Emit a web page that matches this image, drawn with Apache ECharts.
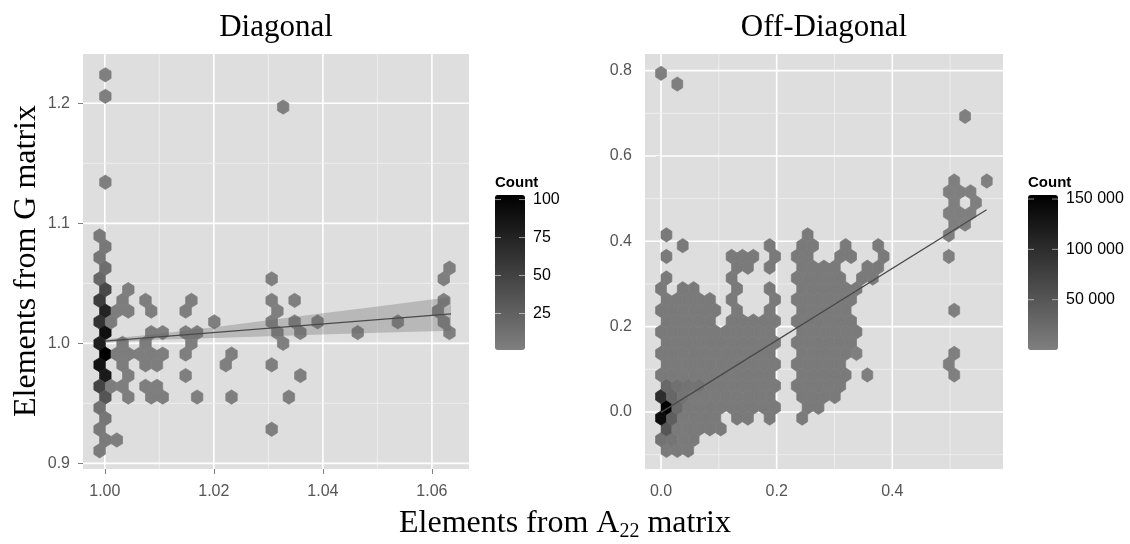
<!DOCTYPE html>
<html>
<head>
<meta charset="utf-8">
<script src="https://cdn.jsdelivr.net/npm/echarts@6/dist/echarts.min.js"></script>
<style>
html, body { margin: 0; padding: 0; background: #fff; }
#chart { width: 1130px; height: 544px; }
</style>
</head>
<body>
<div id="chart"></div>
<script>
// hexbin lattices (data units): column half-step hx, row step dy
const diagGrid = { x0: 1.0001, hx: 0.001052, y0: 1.0, dy: 0.00895 };
const offGrid = { x0: 0.0, hx: 0.00939, y0: 0.011, dy: 0.02525 };

// Diagonal panel: [column, row, count]
const diagCells = [
  [0, 25, 1], [0, 23, 1], [0, 15, 1],
  [-1, 10, 6], [0, 9, 7], [-1, 8, 8], [0, 7, 15], [-1, 6, 20], [0, 5, 45],
  [-1, 4, 55], [0, 3, 75], [-1, 2, 62], [0, 1, 90], [-1, 0, 78], [0, -1, 103],
  [-1, -2, 88], [0, -3, 82], [-1, -4, 48], [0, -5, 35], [-1, -6, 12], [0, -7, 8],
  [-1, -8, 6], [0, -9, 5], [-1, -10, 4],
  [31, 22, 1], [60, 7, 1], [29, 6, 1], [59, 6, 1], [4, 5, 2],
  [3, 4, 3], [7, 4, 2], [15, 4, 2], [29, 4, 1], [33, 4, 1], [59, 4, 1],
  [2, 3, 3], [4, 3, 3], [8, 3, 2], [14, 3, 2], [30, 3, 1], [58, 3, 1],
  [1, 2, 4], [19, 2, 1], [29, 2, 2], [33, 2, 1], [37, 2, 1], [51, 2, 1], [59, 2, 2],
  [8, 1, 3], [10, 1, 2], [14, 1, 2], [16, 1, 2], [30, 1, 2], [34, 1, 1], [44, 1, 1], [60, 1, 1],
  [3, 0, 3], [7, 0, 3], [15, 0, 2], [31, 0, 1],
  [2, -1, 3], [4, -1, 3], [6, -1, 2], [8, -1, 3], [10, -1, 2], [14, -1, 1], [22, -1, 1],
  [3, -2, 3], [7, -2, 3], [9, -2, 2], [21, -2, 1], [29, -2, 1],
  [4, -3, 2], [14, -3, 1], [34, -3, 1],
  [1, -4, 3], [3, -4, 2], [7, -4, 2], [9, -4, 2],
  [4, -5, 2], [8, -5, 2], [10, -5, 2], [16, -5, 1], [22, -5, 1], [32, -5, 1],
  [29, -8, 1], [2, -9, 2]
];

// Off-diagonal panel: filled columns per row of the two big clouds
const offRows = [
  [-4, [1, 3, 5]],
  [-3, [0, 2, 4, 6]],
  [-2, [1, 3, 5, 7, 9, 11]],
  [-1, [0, 2, 4, 6, 8, 10, 14, 16, 20, 26]],
  [0, [1, 3, 5, 7, 9, 11, 13, 15, 17, 19, 21, 27, 29]],
  [1, [0, 2, 4, 6, 8, 10, 12, 14, 16, 18, 20, 26, 28, 30, 32]],
  [2, [1, 3, 5, 7, 9, 11, 13, 15, 17, 19, 21, 25, 27, 29, 31, 33]],
  [3, [0, 2, 4, 6, 8, 10, 12, 14, 16, 18, 20, 26, 28, 30, 32, 34]],
  [4, [1, 3, 5, 7, 9, 11, 13, 15, 17, 19, 21, 25, 27, 29, 31, 33]],
  [5, [0, 2, 4, 6, 8, 10, 12, 14, 16, 18, 20, 26, 28, 30, 32, 34]],
  [6, [1, 3, 5, 7, 9, 11, 13, 15, 17, 19, 21, 25, 27, 29, 31, 33, 35]],
  [7, [0, 2, 4, 6, 8, 10, 12, 14, 16, 18, 20, 26, 28, 30, 32, 34, 36]],
  [8, [1, 3, 5, 7, 9, 13, 15, 17, 19, 21, 25, 27, 29, 31, 33, 35]],
  [9, [0, 2, 4, 6, 8, 10, 14, 20, 26, 28, 30, 32, 34]],
  [10, [1, 3, 5, 7, 9, 13, 21, 25, 27, 29, 31, 33, 35]],
  [11, [0, 4, 6, 14, 20, 26, 28, 30, 32, 34, 36]],
  [12, [1, 13, 25, 27, 29, 31, 33, 37, 39]],
  [13, [14, 16, 20, 26, 28, 30, 32, 38, 40]],
  [14, [1, 13, 15, 17, 21, 25, 27, 33, 35, 41]],
  [15, [4, 20, 26, 28, 34, 40]],
  [16, [1, 27]]
];
const offCloudCount = 6000;
// isolated cells: [column, row]
const offSingles = [
  [0, 31], [3, 30], [56, 27], [54, 21], [60, 21], [53, 20], [55, 20], [57, 20],
  [54, 19], [58, 19], [53, 18], [55, 18], [57, 18], [54, 17], [56, 17], [53, 16],
  [53, 14], [54, 9], [36, 5], [54, 5], [53, 4], [38, 3], [54, 3]
];
const offSingleCount = 300;
// denser cells near the origin: [column, row, count]
const offDense = [
  [1, 0, 154000], [0, -1, 140000], [0, 1, 100000], [1, -2, 50000], [2, -1, 40000],
  [2, 1, 30000], [1, 2, 28000], [3, 0, 25000], [3, 2, 18000], [5, 2, 15000],
  [7, 2, 15000], [4, 1, 15000], [0, -3, 15000], [2, -3, 12000]
];

// fitted lines and confidence band
const diagFitX = [1.0, 1.0635];
const diagFitY = [1.0019, 1.0246];
const diagBandX = [1.0, 1.01, 1.02, 1.03, 1.04, 1.05, 1.0635];
const diagBandLo = [1.0004, 1.0030, 1.0045, 1.0059, 1.0073, 1.0088, 1.0106];
const diagBandHi = [1.0034, 1.0080, 1.0135, 1.0193, 1.0251, 1.0308, 1.0386];
const offFitX = [0.0, 0.563];
const offFitY = [-0.001, 0.474];

// axis ticks
const diagXTicks = [1.00, 1.02, 1.04, 1.06];
const diagXMinor = [1.01, 1.03, 1.05];
const diagYTicks = [0.9, 1.0, 1.1, 1.2];
const diagYMinor = [0.95, 1.05, 1.15];
const offXTicks = [0.0, 0.2, 0.4];
const offXMinor = [0.1, 0.3, 0.5];
const offYTicks = [0.0, 0.2, 0.4, 0.6, 0.8];
const offYMinor = [-0.1, 0.1, 0.3, 0.5, 0.7];
const diagLegendTicks = [25, 50, 75, 100];
const offLegendTicks = [50000, 100000, 150000];
const diagCountRange = [1, 103];
const offCountRange = [1, 154000];

const SANS = 'Liberation Sans, Arial, sans-serif';
const SERIF = 'Liberation Serif, Times New Roman, serif';
const diagRange = { x: [0.996, 1.0668], y: [0.8953, 1.2411] };
const offRange = { x: [-0.0277, 0.5914], y: [-0.1336, 0.839] };

function toData(grid, list) {
  return list.map(function (d) { return [grid.x0 + d[0] * grid.hx, grid.y0 + d[1] * grid.dy, d[2]]; });
}

const offList = [];
offRows.forEach(function (row) {
  row[1].forEach(function (c) { offList.push([c, row[0], offCloudCount]); });
});
offSingles.forEach(function (d) { offList.push([d[0], d[1], offSingleCount]); });
offDense.forEach(function (d) {
  const hit = offList.find(function (e) { return e[0] === d[0] && e[1] === d[1]; });
  if (hit) hit[2] = d[2]; else offList.push(d.slice());
});

function hexRenderer(grid) {
  return function (params, api) {
    const x = api.value(0), y = api.value(1);
    const p = api.coord([x, y]);
    const s = api.size([grid.hx, grid.dy], [x, y]);
    const w = Math.abs(s[0]), R = Math.abs(s[1]) / 1.5;
    const color = api.visual('color');
    return {
      type: 'polygon',
      shape: { points: [[p[0], p[1] - R], [p[0] + w, p[1] - R / 2], [p[0] + w, p[1] + R / 2],
        [p[0], p[1] + R], [p[0] - w, p[1] + R / 2], [p[0] - w, p[1] - R / 2]] },
      style: { fill: color, stroke: color, lineWidth: 0.7 }
    };
  };
}

// kind: 0 vertical major, 1 vertical minor, 2 horizontal major, 3 horizontal minor
function gridLines(range, xMaj, xMin, yMaj, yMin) {
  const out = [];
  xMaj.forEach(function (v) { out.push([v, range.y[0], 0]); });
  xMin.forEach(function (v) { out.push([v, range.y[0], 1]); });
  yMaj.forEach(function (v) { out.push([range.x[0], v, 2]); });
  yMin.forEach(function (v) { out.push([range.x[0], v, 3]); });
  return out;
}
function gridLineRenderer(params, api) {
  const cs = params.coordSys;
  const kind = api.value(2);
  const p = api.coord([api.value(0), api.value(1)]);
  const major = kind === 0 || kind === 2;
  const style = { stroke: major ? '#ffffff' : '#eeeeee', lineWidth: major ? 1.6 : 0.9 };
  if (kind < 2) {
    return { type: 'line', shape: { x1: p[0], y1: cs.y, x2: p[0], y2: cs.y + cs.height }, style: style };
  }
  return { type: 'line', shape: { x1: cs.x, y1: p[1], x2: cs.x + cs.width, y2: p[1] }, style: style };
}
function bandRenderer(params, api) {
  if (params.dataIndex !== 0) return null;
  const pts = [];
  diagBandX.forEach(function (x, i) { pts.push(api.coord([x, diagBandHi[i]])); });
  for (let i = diagBandX.length - 1; i >= 0; i--) pts.push(api.coord([diagBandX[i], diagBandLo[i]]));
  return { type: 'polygon', shape: { points: pts }, style: { fill: 'rgba(95,95,95,0.3)' } };
}

function valueAxis(gridIndex, range, ticks, digits, isX) {
  return {
    type: 'value', gridIndex: gridIndex, min: range[0], max: range[1],
    splitLine: { show: false }, axisLine: { show: false },
    axisTick: { show: true, length: 5, customValues: ticks, lineStyle: { color: '#7f7f7f', width: 1 } },
    axisLabel: {
      customValues: ticks, color: '#555555', fontSize: 16, fontFamily: SANS,
      margin: isX ? 15 : 13,
      formatter: function (v) { return Number(v).toFixed(digits); }
    }
  };
}

const barTop = 195, barHeight = 155;
function legendGraphics(barLeft, ticks, range, labels) {
  const out = [{
    type: 'text', x: barLeft, y: 183,
    style: { text: 'Count', fontSize: 15, fontWeight: 'bold', fontFamily: SANS, fill: '#000',
      align: 'left', verticalAlign: 'middle', textAlign: 'left', textVerticalAlign: 'middle' }
  }];
  ticks.forEach(function (v, i) {
    const y = barTop + (range[1] - v) / (range[1] - range[0]) * barHeight;
    out.push({ type: 'line', shape: { x1: barLeft, y1: y, x2: barLeft + 6, y2: y }, style: { stroke: 'rgba(255,255,255,0.55)', lineWidth: 1 }, z: 10 });
    out.push({ type: 'line', shape: { x1: barLeft + 24, y1: y, x2: barLeft + 30, y2: y }, style: { stroke: 'rgba(255,255,255,0.55)', lineWidth: 1 }, z: 10 });
    out.push({
      type: 'text', x: barLeft + 38, y: y,
      style: { text: labels[i], fontSize: 16, fontFamily: SANS, fill: '#000',
        align: 'left', verticalAlign: 'middle', textAlign: 'left', textVerticalAlign: 'middle' }
    });
  });
  return out;
}

const chart = echarts.init(document.getElementById('chart'), null, { renderer: 'canvas' });
chart.setOption({
  animation: false,
  backgroundColor: '#ffffff',
  grid: [
    { left: 83, top: 54, width: 386, height: 415, show: true, backgroundColor: '#dedede', borderWidth: 0 },
    { left: 645, top: 54, width: 358, height: 415, show: true, backgroundColor: '#dedede', borderWidth: 0 }
  ],
  xAxis: [
    valueAxis(0, diagRange.x, diagXTicks, 2, true),
    valueAxis(1, offRange.x, offXTicks, 1, true)
  ],
  yAxis: [
    valueAxis(0, diagRange.y, diagYTicks, 1, false),
    valueAxis(1, offRange.y, offYTicks, 1, false)
  ],
  visualMap: [
    { type: 'continuous', seriesIndex: 1, dimension: 2, min: diagCountRange[0], max: diagCountRange[1],
      inRange: { color: ['#7f7f7f', '#000000'] }, left: 495, top: barTop, itemWidth: 30, itemHeight: barHeight,
      padding: 0, calculable: false, hoverLink: false, text: null },
    { type: 'continuous', seriesIndex: 5, dimension: 2, min: offCountRange[0], max: offCountRange[1],
      inRange: { color: ['#7f7f7f', '#000000'] }, left: 1028, top: barTop, itemWidth: 30, itemHeight: barHeight,
      padding: 0, calculable: false, hoverLink: false, text: null }
  ],
  series: [
    { type: 'custom', xAxisIndex: 0, yAxisIndex: 0, z: 1, silent: true, renderItem: gridLineRenderer,
      data: gridLines(diagRange, diagXTicks, diagXMinor, diagYTicks, diagYMinor) },
    { type: 'custom', xAxisIndex: 0, yAxisIndex: 0, z: 2, clip: true, renderItem: hexRenderer(diagGrid),
      encode: { x: 0, y: 1 }, data: toData(diagGrid, diagCells) },
    { type: 'custom', xAxisIndex: 0, yAxisIndex: 0, z: 3, silent: true, renderItem: bandRenderer,
      encode: { x: 0, y: [1, 2] }, data: diagBandX.map(function (x, i) { return [x, diagBandLo[i], diagBandHi[i]]; }) },
    { type: 'line', xAxisIndex: 0, yAxisIndex: 0, z: 4, symbol: 'none', silent: true,
      lineStyle: { color: '#4a4a4a', width: 1.3 },
      data: diagFitX.map(function (x, i) { return [x, diagFitY[i]]; }) },
    { type: 'custom', xAxisIndex: 1, yAxisIndex: 1, z: 1, silent: true, renderItem: gridLineRenderer,
      data: gridLines(offRange, offXTicks, offXMinor, offYTicks, offYMinor) },
    { type: 'custom', xAxisIndex: 1, yAxisIndex: 1, z: 2, clip: true, renderItem: hexRenderer(offGrid),
      encode: { x: 0, y: 1 }, data: toData(offGrid, offList) },
    { type: 'line', xAxisIndex: 1, yAxisIndex: 1, z: 4, symbol: 'none', silent: true,
      lineStyle: { color: '#4a4a4a', width: 1.3 },
      data: offFitX.map(function (x, i) { return [x, offFitY[i]]; }) }
  ],
  graphic: [
    { type: 'text', x: 276, y: 28, style: { text: 'Diagonal', fontSize: 31, fontFamily: SERIF, fill: '#000',
      align: 'center', verticalAlign: 'middle', textAlign: 'center', textVerticalAlign: 'middle' } },
    { type: 'text', x: 824, y: 28, style: { text: 'Off-Diagonal', fontSize: 31, fontFamily: SERIF, fill: '#000',
      align: 'center', verticalAlign: 'middle', textAlign: 'center', textVerticalAlign: 'middle' } },
    { type: 'text', x: 27, y: 261, rotation: Math.PI / 2, style: { text: 'Elements from G matrix', fontSize: 32,
      fontFamily: SERIF, fill: '#000', align: 'center', verticalAlign: 'middle', textAlign: 'center', textVerticalAlign: 'middle' } },
    { type: 'text', x: 565, y: 524, style: {
      text: '{m|Elements from A}{s|22}{m| matrix}',
      align: 'center', verticalAlign: 'middle', textAlign: 'center', textVerticalAlign: 'middle',
      rich: {
        m: { fontSize: 32, fontFamily: SERIF, fill: '#000', lineHeight: 36 },
        s: { fontSize: 20, fontFamily: SERIF, fill: '#000', lineHeight: 14, verticalAlign: 'bottom' }
      } } }
  ].concat(
    legendGraphics(495, diagLegendTicks, diagCountRange, diagLegendTicks.map(String)),
    legendGraphics(1028, offLegendTicks, offCountRange, ['50 000', '100 000', '150 000'])
  )
});
</script>
</body>
</html>
